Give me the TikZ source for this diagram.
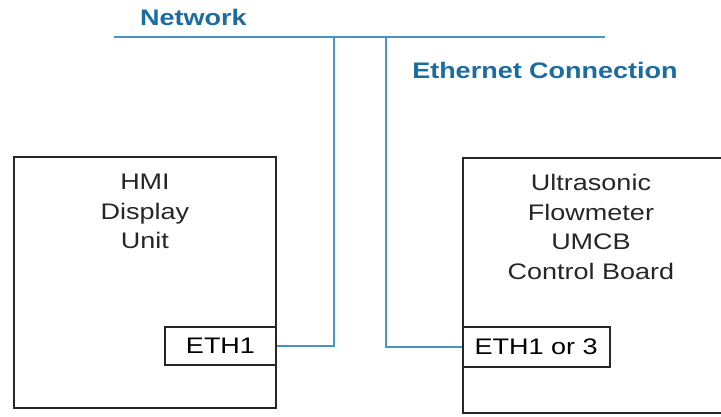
\documentclass[tikz,border=0pt]{standalone}
\usepackage{fontspec}
\setmainfont{Liberation Sans}[FakeStretch=1.2]
\usepackage{xcolor}
\usepackage{tikz}
\usetikzlibrary{positioning}

\definecolor{netblue}{RGB}{28,108,160}
\definecolor{wireblue}{RGB}{72,148,198}

\begin{document}
\begin{tikzpicture}
[
	x = 1pt, y = -1pt,
	unit/.style	= {rectangle, draw = black!85, line width = 1.5pt, inner sep = 0pt},
	port/.style	= {unit, font = \fontsize{22.5}{29.5}\selectfont},
	caption/.style	= {align = center, inner sep = 0pt, font = \fontsize{22.5}{29.5}\selectfont, text = black!85},
	title/.style	= {inner sep = 0pt, font = \fontsize{22.5}{27}\selectfont\bfseries, text = netblue},
	wire/.style	= {draw = wireblue, line width = 2pt},
]

	\clip (0,0) rectangle (721,417);

	% network bus
	\node (network) [title] at (193.5,17) {Network};
	\node (ethernet) [title] at (545,70) {Ethernet Connection};
	\coordinate (busL) at (114,37);
	\coordinate (busR) at (605,37);
	\coordinate (tapA) at (334,37);
	\coordinate (tapB) at (386,37);
	%
	\draw [wire] (busL) -- (busR);

	% HMI display unit
	\node (hmi) [unit, minimum width = 262pt, minimum height = 251pt] at (145,282.5) {};
	\node (hmitext) [caption, anchor = north] at (145,174) {HMI\\Display\\Unit};
	\node (eth1) [port, minimum width = 111pt, minimum height = 38pt, anchor = east] at (hmi.east |- 0,346) {ETH1};

	% flowmeter control board
	\node (umcb) [unit, minimum width = 280pt, minimum height = 255pt, anchor = west] at (462,285.5) {};
	\node (umcbtext) [caption, anchor = north] at (591,174) {Ultrasonic\\Flowmeter\\UMCB\\Control Board};
	\node (eth13) [port, minimum width = 147pt, minimum height = 40pt, anchor = west] at (umcb.west |- 0,347) {ETH1 or 3};

	\draw [wire] (eth1.east) -| (tapA);
	\draw [wire] (eth13.west) -| (tapB);

\end{tikzpicture}
\end{document}
